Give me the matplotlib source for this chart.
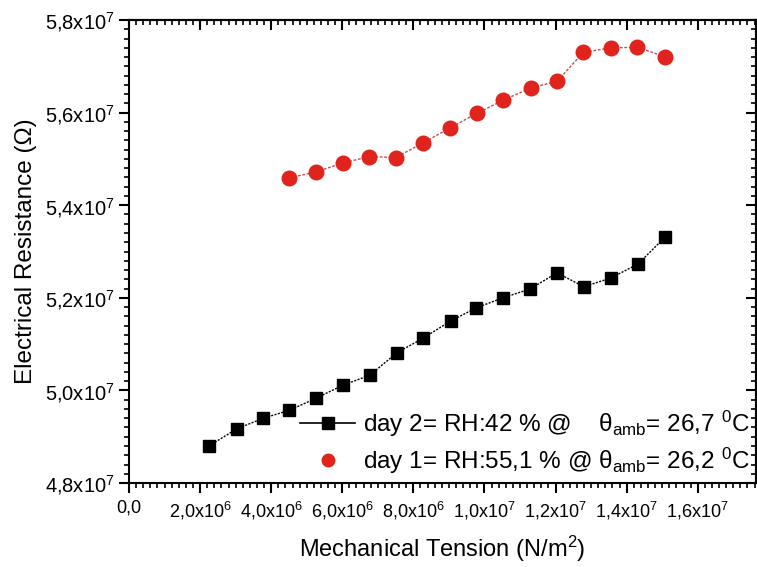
import matplotlib
matplotlib.use("Agg")
import matplotlib.pyplot as plt
from matplotlib.lines import Line2D
from matplotlib.ticker import MultipleLocator, FuncFormatter

plt.rcParams["font.family"] = ["Liberation Sans", "DejaVu Sans"]
plt.rcParams["mathtext.fontset"] = "custom"
plt.rcParams["mathtext.rm"] = "Liberation Sans"
plt.rcParams["mathtext.it"] = "Liberation Sans:italic"

# day 2 (black squares): tension in N/m^2, resistance in ohm
day2_tension = [2.25e6, 3.03e6, 3.78e6, 4.51e6, 5.26e6, 6.01e6, 6.78e6, 7.53e6, 8.28e6,
                9.05e6, 9.76e6, 10.52e6, 11.28e6, 12.04e6, 12.80e6, 13.56e6, 14.32e6, 15.08e6]
day2_resist = [4.880e7, 4.917e7, 4.940e7, 4.957e7, 4.983e7, 5.011e7, 5.033e7, 5.081e7, 5.113e7,
               5.150e7, 5.178e7, 5.200e7, 5.219e7, 5.254e7, 5.224e7, 5.243e7, 5.273e7, 5.331e7]

# day 1 (red circles)
day1_tension = [4.51e6, 5.26e6, 6.01e6, 6.76e6, 7.51e6, 8.28e6, 9.03e6, 9.80e6,
                10.53e6, 11.30e6, 12.05e6, 12.78e6, 13.55e6, 14.30e6, 15.07e6]
day1_resist = [5.459e7, 5.472e7, 5.491e7, 5.505e7, 5.503e7, 5.535e7, 5.567e7, 5.599e7,
               5.627e7, 5.653e7, 5.668e7, 5.730e7, 5.740e7, 5.741e7, 5.721e7]

day2_label = r"day 2= RH:42 % @    θ$_{\mathregular{amb}}$= 26,7 $^{\mathregular{0}}$C"
day1_label = r"day 1= RH:55,1 % @ θ$_{\mathregular{amb}}$= 26,2 $^{\mathregular{0}}$C"


def sci_fmt(v, pos):
    if v == 0:
        return "0,0"
    exp = 0
    m = abs(v)
    while m >= 10:
        m /= 10
        exp += 1
    mant = f"{v / 10**exp:.1f}".replace(".", ",")
    return mant + r"x10$^{\mathregular{" + str(exp) + "}}$"


fig = plt.figure(figsize=(7.57, 5.67), dpi=100)
ax = fig.add_axes([0.1704, 0.1481, 0.8283, 0.8166])

ax.plot(day2_tension, day2_resist, color="black", lw=1.0, ls=(0, (1.5, 1)),
        marker="s", ms=9, mec="black", mfc="black", zorder=3)
ax.plot(day1_tension, day1_resist, color="#c0504d", lw=1.0, ls=(0, (2, 1.2)),
        marker="o", ms=10.5, mec="#e0231c", mfc="#e0231c", zorder=3)

ax.set_xlim(0, 1.764e7)
ax.set_ylim(4.8e7, 5.8e7)

ax.xaxis.set_major_locator(MultipleLocator(2e6))
ax.xaxis.set_minor_locator(MultipleLocator(2e5))
ax.yaxis.set_major_locator(MultipleLocator(2e6))
ax.yaxis.set_minor_locator(MultipleLocator(2e5))
ax.xaxis.set_major_formatter(FuncFormatter(sci_fmt))
ax.yaxis.set_major_formatter(FuncFormatter(sci_fmt))

for s in ax.spines.values():
    s.set_linewidth(1.5)

ax.tick_params(which="major", direction="out", length=7, width=1.5)
ax.tick_params(which="minor", direction="out", length=3.5, width=1.2)
ax.tick_params(axis="x", labelsize=13, pad=5)
ax.tick_params(axis="y", labelsize=14.5, pad=3)

# mirrored ticks on top and right point inward
top = ax.secondary_xaxis("top")
top.xaxis.set_major_locator(MultipleLocator(2e6))
top.xaxis.set_minor_locator(MultipleLocator(2e5))
top.tick_params(which="major", direction="in", length=7, width=1.5, labeltop=False)
top.tick_params(which="minor", direction="in", length=3.5, width=1.2)
right = ax.secondary_yaxis("right")
right.yaxis.set_major_locator(MultipleLocator(2e6))
right.yaxis.set_minor_locator(MultipleLocator(2e5))
right.tick_params(which="major", direction="in", length=7, width=1.5, labelright=False)
right.tick_params(which="minor", direction="in", length=3.5, width=1.2)
for sa in (top, right):
    for s in sa.spines.values():
        s.set_linewidth(1.5)

ax.set_xlabel(r"Mechanical Tension (N/m$^{\mathregular{2}}$)", fontsize=17, labelpad=9)
ax.set_ylabel("Electrical Resistance (Ω)", fontsize=17.5, labelpad=6)

handles = [
    Line2D([], [], color="black", lw=1.2, marker="s", ms=8, mfc="black"),
    Line2D([], [], color="none", marker="o", ms=9, mfc="#e0231c", mec="#e0231c"),
]
ax.legend(handles, [day2_label, day1_label], loc="lower left",
          bbox_to_anchor=(0.273, 0.015), frameon=False, fontsize=17.5,
          handlelength=2.26, handletextpad=0.33, labelspacing=0.3,
          borderpad=0.0, borderaxespad=0.0)

fig.savefig("out.png", dpi=100)
